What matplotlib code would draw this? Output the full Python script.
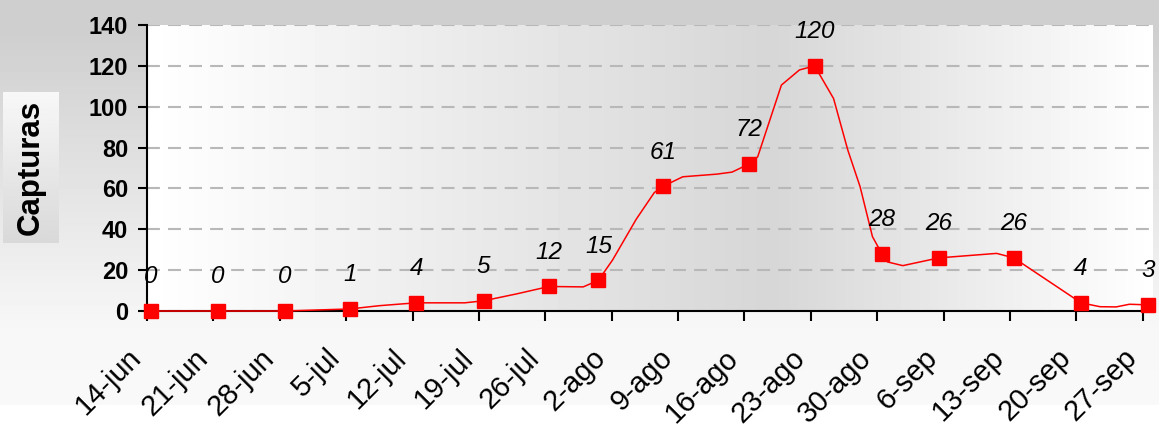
import numpy as np
import matplotlib.pyplot as plt
from matplotlib.transforms import ScaledTranslation

plt.rcParams['font.family'] = ['Liberation Sans', 'DejaVu Sans']

# semanas del eje (dias desde el 14-jun)
fechas = ['14-jun', '21-jun', '28-jun', '5-jul', '12-jul', '19-jul', '26-jul', '2-ago',
          '9-ago', '16-ago', '23-ago', '30-ago', '6-sep', '13-sep', '20-sep', '27-sep']
dias_ticks = [0, 7, 14, 21, 28, 35, 42, 49, 56, 63, 70, 77, 84, 91, 98, 105]

# muestreos (dia de captura y numero de capturas)
dias = [0.4, 7.5, 14.5, 21.4, 28.4, 35.5, 42.4, 47.6, 54.4, 63.5, 70.4, 77.5, 83.5, 91.4, 98.5, 105.6]
capturas = [0, 0, 0, 1, 4, 5, 12, 15, 61, 72, 120, 28, 26, 26, 4, 3]

# trazo de la linea
linea_dias = [0.4, 7.5, 14.5, 21.4, 24.5, 26.7, 28.4, 33.5, 35.5, 39.0, 42.4, 46.0, 47.6,
              49.1, 51.6, 53.5, 54.4, 56.5, 60.1, 61.7, 63.5, 64.4, 66.9, 68.8, 70.4,
              72.4, 73.9, 75.2, 76.5, 77.5, 78.1, 79.7, 83.5, 89.6, 91.4, 98.5, 100.5,
              102.2, 103.6, 105.6]
linea_vals = [0, 0, 0, 1, 2.6, 3.4, 4, 4, 5, 8.4, 12, 11.8, 15,
              25, 45, 58, 61, 65.7, 67, 68, 72, 75.5, 110.6, 118, 120,
              104, 78.8, 60.8, 36.4, 28, 24, 22.2, 26, 28.2, 26, 4, 2.1,
              2, 3.3, 3]

W, H = 1159, 430
fig = plt.figure(figsize=(W / 100, H / 100), dpi=100)

# fondo con degradado vertical
bg = fig.add_axes([0, 0, 1, 1], zorder=-10)
filas = np.interp(np.arange(H), [0, 30, 330, 404, 405, 430], [0.81, 0.81, 0.97, 0.975, 1.0, 1.0])
bg.imshow(filas[:, None], aspect='auto', cmap='gray', vmin=0, vmax=1, extent=(0, 1, 0, 1))
bg.axis('off')

x0, x1, y0, y1 = 147, 1153, 25, 311
ax = fig.add_axes([x0 / W, 1 - y1 / H, (x1 - x0) / W, (y1 - y0) / H])
xmax = (x1 - x0) / 9.483
cols = np.interp(np.arange(x0, x1), [x0, 770, x1], [1.0, 0.84, 1.0])
ax.imshow(cols[None, :], aspect='auto', cmap='gray', vmin=0, vmax=1,
          extent=(0, xmax, 0, 140), zorder=0)
ax.set_xlim(0, xmax)
ax.set_ylim(0, 140)

ax.set_yticks(range(0, 141, 20))
ax.yaxis.grid(True, linestyle=(0, (6.2, 3.9)), color='#b8b8b8', linewidth=1.5)
ax.set_axisbelow(True)
for s in ['top', 'right']:
    ax.spines[s].set_visible(False)
for s in ['left', 'bottom']:
    ax.spines[s].set_linewidth(1.5)
    ax.spines[s].set_zorder(2)

ax.tick_params(axis='y', direction='out', length=6.5, width=1.5, pad=7, labelsize=17)
ax.tick_params(axis='x', direction='out', length=7.5, width=1.5, pad=16)
for t in ax.get_yticklabels():
    t.set_fontweight('bold')
ax.set_xticks(dias_ticks)
ax.set_xticklabels(fechas, rotation=45, ha='right', rotation_mode='anchor', fontsize=21)
desplaza = ScaledTranslation(-20 / 100, 0, fig.dpi_scale_trans)
for t in ax.get_xticklabels():
    t.set_transform(t.get_transform() + desplaza)

ax.plot(linea_dias, linea_vals, color='red', linewidth=1.1, zorder=3, clip_on=False)
ax.plot(dias, capturas, 's', color='red', markersize=9.5, zorder=4, clip_on=False)
for d, v in zip(dias, capturas):
    ax.annotate(str(v), (d, v), xytext=(0, 24.5), textcoords='offset points',
                ha='center', va='center', fontsize=17.5, style='italic',
                annotation_clip=False, zorder=5)

# caja del titulo del eje Y
bx = fig.add_axes([3 / W, 1 - 243 / H, 56 / W, 151 / H])
bx.imshow(np.linspace(0.97, 0.85, 100)[:, None], aspect='auto', cmap='gray',
          vmin=0, vmax=1, extent=(0, 1, 0, 1))
bx.axis('off')
bx.text(0.5, 0.5, 'Capturas', rotation=90, fontsize=22.5, fontweight='bold',
        ha='center', va='center', transform=bx.transAxes)

fig.savefig('out.png', dpi=100)
